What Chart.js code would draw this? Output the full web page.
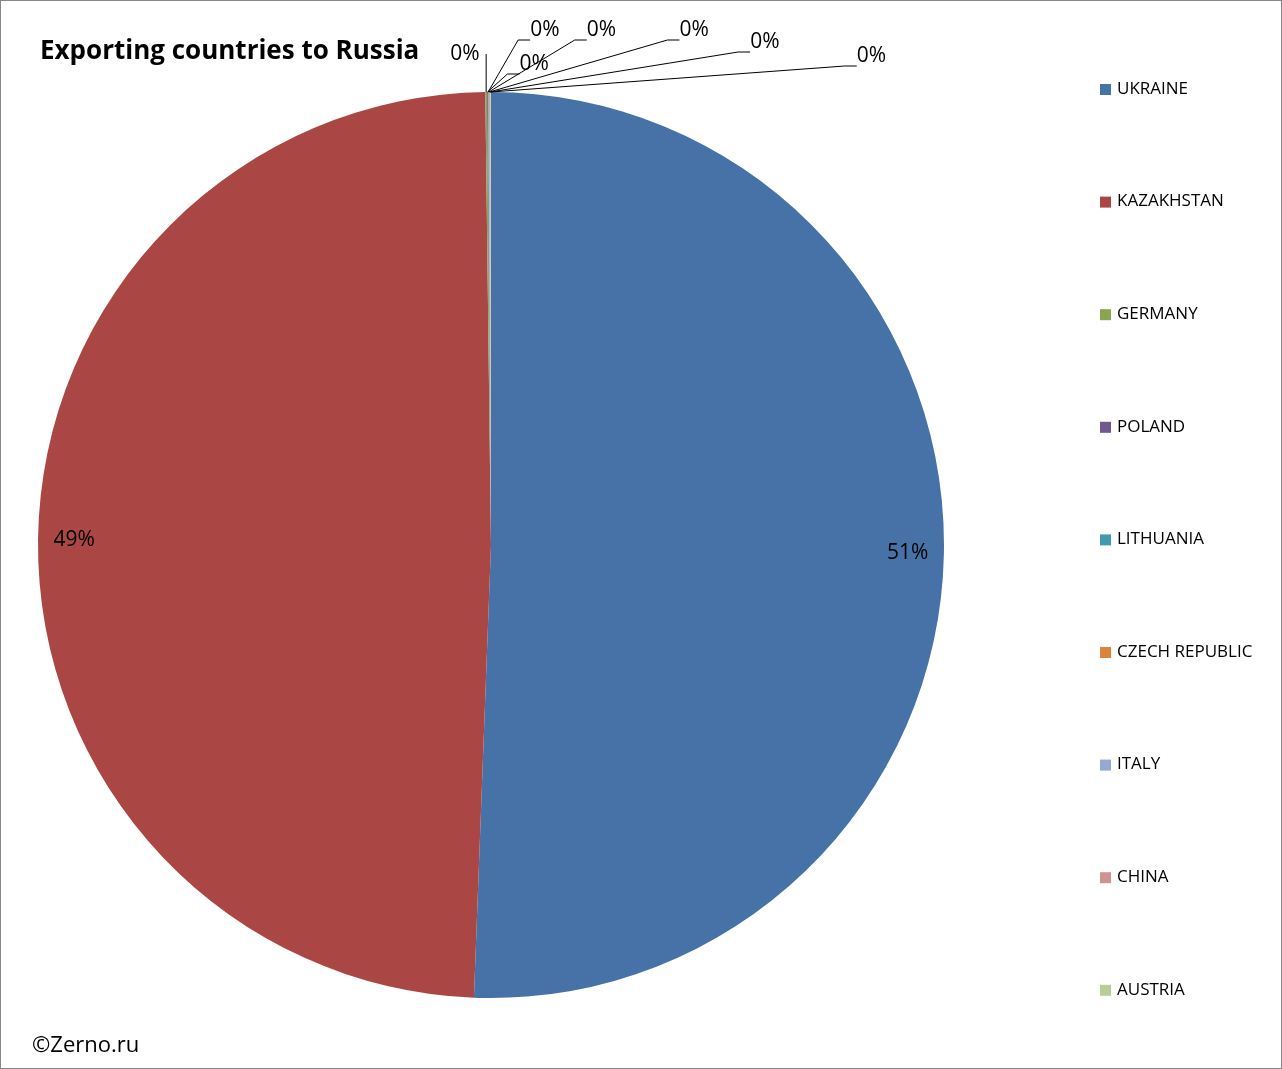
<!DOCTYPE html><html><head><meta charset="utf-8">
<script src="https://cdn.jsdelivr.net/npm/chart.js@4"></script>
<style>body{margin:0;background:#fff}canvas{display:block}</style></head><body>
<canvas id="c" width="1282" height="1069"></canvas>
<script>
const categories=["UKRAINE","KAZAKHSTAN","GERMANY","POLAND","LITHUANIA","CZECH REPUBLIC","ITALY","CHINA","AUSTRIA"];
const values=[50.6,49.2,0.06,0.03,0.02,0.02,0.03,0.02,0.02];
const colors=["#4672A8","#AA4643","#89A54E","#71588F","#4198AF","#DB843D","#93A9CF","#D19392","#B9CD96"];
// label offsets (dx,dy from top of pie) for the tiny slices
const smallLabelOffsets=[[-36,-38],[20,-28],[30,-62],[86,-62],[178,-62],[248,-50],[354,-36]];
const deco={id:'deco',afterDraw(ch){
 const x=ch.ctx;const total=values.reduce((a,b)=>a+b,0);
 x.save();
 x.strokeStyle='#888';x.lineWidth=1;x.strokeRect(0.5,0.5,1281,1068);
 x.fillStyle='#000';x.font='bold 26px "Open Sans",sans-serif';x.textBaseline='alphabetic';
 x.fillText('Exporting countries to Russia',40,59);
 x.font='22px "Open Sans",sans-serif';x.fillText('©Zerno.ru',32,1052);
 // legend
 x.font='17px "Open Sans",sans-serif';x.textBaseline='middle';
 categories.forEach((c,i)=>{const y=89+i*112.6;x.fillStyle=colors[i];x.fillRect(1100,y-5,11,11);x.fillStyle='#000';x.fillText(c,1117,y);});
 const meta=ch.getDatasetMeta(0);
 x.font='21px "Open Sans",sans-serif';
 let si=0;
 meta.data.forEach((a,i)=>{
  const pct=Math.round(values[i]/total*100)+'%';
  const mid=(a.startAngle+a.endAngle)/2;
  if(values[i]>5){
   const r=a.outerRadius*0.92;
   x.textAlign='center';x.fillStyle='#000';
   x.fillText(pct,a.x+Math.cos(mid)*r,a.y+Math.sin(mid)*r);
  }else{
   const px=a.x+Math.cos(mid)*a.outerRadius,py=a.y+Math.sin(mid)*a.outerRadius;
   const o=smallLabelOffsets[si++];const lx=px+o[0],ly=py+o[1];
   x.strokeStyle='#000';x.beginPath();x.moveTo(px,py);
   if(o[0]<0){x.lineTo(lx+36,ly);}else{x.lineTo(lx,ly+10);x.lineTo(lx+12,ly+10);}
   x.stroke();
   x.textAlign='left';x.fillStyle='#000';
   if(o[0]<0)x.fillText(pct,lx,ly);else x.fillText(pct,lx+12,ly);
  }
 });
 x.restore();
}};
new Chart(document.getElementById('c'),{type:'pie',
 data:{labels:categories,datasets:[{data:values,backgroundColor:colors,borderWidth:0}]},
 options:{responsive:false,animation:false,layout:{padding:{left:38,right:338,top:92,bottom:71}},
  plugins:{legend:{display:false},tooltip:{enabled:false}}},plugins:[deco]});
</script></body></html>
